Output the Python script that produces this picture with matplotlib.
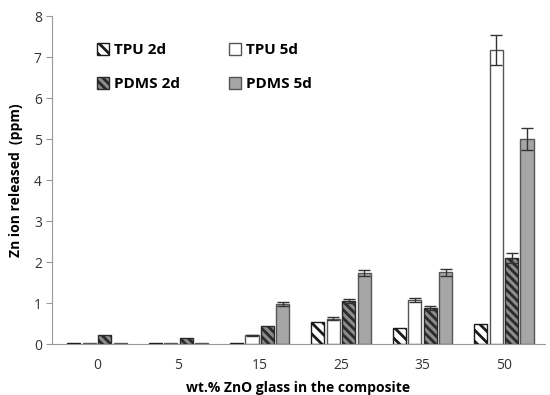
import matplotlib
matplotlib.use("Agg")
import matplotlib.pyplot as plt
import numpy as np

plt.rcParams['font.family'] = ['Open Sans', 'DejaVu Sans']
plt.rcParams['hatch.linewidth'] = 2.0

categories = ["0", "5", "15", "25", "35", "50"]
series_names = ["TPU 2d", "TPU 5d", "PDMS 2d", "PDMS 5d"]
tpu_2d = [0.02, 0.02, 0.02, 0.53, 0.40, 0.49]
tpu_5d = [0.02, 0.02, 0.21, 0.62, 1.07, 7.18]
pdms_2d = [0.23, 0.15, 0.43, 1.05, 0.88, 2.10]
pdms_5d = [0.02, 0.02, 0.97, 1.73, 1.75, 5.00]
tpu_2d_err = [0, 0, 0, 0, 0, 0]
tpu_5d_err = [0, 0, 0.02, 0.03, 0.05, 0.36]
pdms_2d_err = [0, 0, 0, 0.06, 0.04, 0.12]
pdms_5d_err = [0, 0, 0.05, 0.08, 0.08, 0.26]
yticks = [0, 1, 2, 3, 4, 5, 6, 7, 8]

fig = plt.figure(figsize=(5.5, 3.95), dpi=100)
ax = fig.add_axes([0.095, 0.129, 0.895, 0.83])

x = np.arange(len(categories))
w = 0.16
pitch = 0.19
styles = [
    dict(facecolor='white', edgecolor='#1a1a1a', hatch='\\\\\\', linewidth=1.0),
    dict(facecolor='white', edgecolor='#555555', linewidth=1.0),
    dict(facecolor='#8c8c8c', edgecolor='#2a2a2a', hatch='\\\\\\\\', linewidth=1.0),
    dict(facecolor='#a6a6a6', edgecolor='#555555', linewidth=1.0),
]
data = [tpu_2d, tpu_5d, pdms_2d, pdms_5d]
errs = [tpu_2d_err, tpu_5d_err, pdms_2d_err, pdms_5d_err]
handles = []
for i, (vals, e, st, name) in enumerate(zip(data, errs, styles, series_names)):
    pos = x + (i - 1.5) * pitch
    b = ax.bar(pos, vals, width=w, label=name, **st)
    handles.append(b)
    ee = np.array(e)
    mask = ee > 0
    ax.errorbar(pos[mask], np.array(vals)[mask], yerr=ee[mask], fmt='none',
                ecolor='#333333', elinewidth=1.0, capsize=4, capthick=1.0)

ax.set_xlim(-0.55, len(categories) - 0.5)
ax.set_ylim(0, 8)
ax.set_yticks(yticks)
ax.set_xticks(x)
ax.set_xticklabels(categories)
ax.tick_params(axis='x', length=0, pad=10, labelsize=10, colors='#333333')
ax.tick_params(axis='y', length=4, direction='out', labelsize=10, colors='#333333', color='#999999')
for s in ['top', 'right']:
    ax.spines[s].set_visible(False)
for s in ['left', 'bottom']:
    ax.spines[s].set_color('#999999')
ax.set_xlabel('wt.% ZnO glass in the composite', fontsize=10, fontweight='bold', labelpad=6)
ax.set_ylabel('Zn ion released  (ppm)', fontsize=10, fontweight='bold', labelpad=8)

order = [0, 2, 1, 3]
leg = ax.legend([handles[k] for k in order], [series_names[k] for k in order],
                loc='upper left', bbox_to_anchor=(0.063, 0.96), ncol=2, frameon=False,
                prop={'weight': 'bold', 'size': 11}, handlelength=0.8, handleheight=0.8,
                handletextpad=0.3, columnspacing=3.2, labelspacing=1.3)

fig.savefig('out.png', dpi=100)
